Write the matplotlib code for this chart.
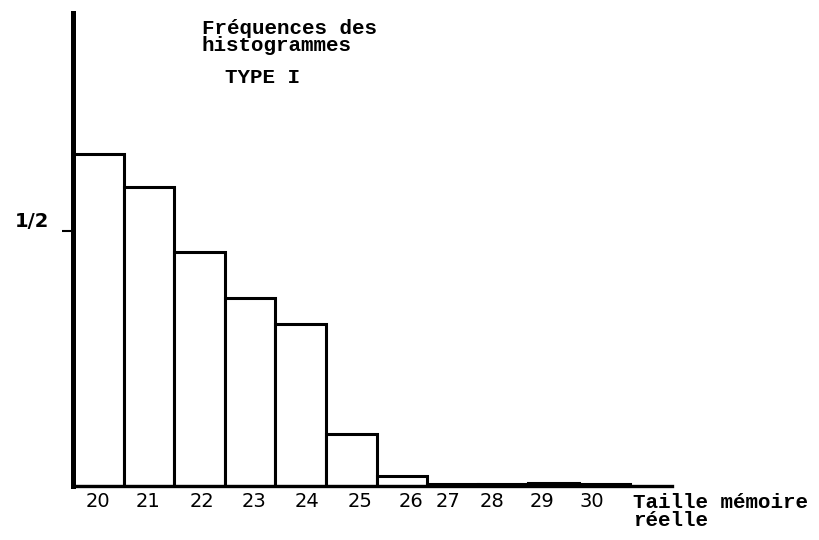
import matplotlib.pyplot as plt

# memory size classes and their frequencies (fraction, 1/2 marked on the axis)
sizes = ["20", "21", "22", "23", "24", "25", "26", "27", "28", "29", "30"]
freqs = [0.651, 0.586, 0.459, 0.369, 0.318, 0.102, 0.020, 0.004, 0.004, 0.005, 0.004]
# where the typed tick labels sit along the axis (the last ones are squeezed)
label_pos = [0.49, 1.48, 2.55, 3.58, 4.62, 5.67, 6.68, 7.41, 8.28, 9.27, 10.26]

mono = "Liberation Mono"

fig = plt.figure(figsize=(8.2, 5.4), dpi=100)
ax = fig.add_axes([73 / 820, 54 / 540, 599 / 820, 473 / 540])

lefts = list(range(len(sizes)))
ax.bar(lefts, freqs, width=1.0, align="edge", facecolor="white",
       edgecolor="black", linewidth=2.2)

ax.set_xlim(0, 11.84)
ax.set_ylim(0, 0.927)

for side in ("top", "right"):
    ax.spines[side].set_visible(False)
ax.spines["left"].set_linewidth(3.6)
ax.spines["bottom"].set_linewidth(2.4)

ax.set_yticks([0.5])
ax.set_yticklabels(["1/2"], fontsize=14, family="DejaVu Sans", fontweight="bold")
ax.tick_params(axis="y", length=8, width=1.5, pad=9)
for lbl in ax.get_yticklabels():
    lbl.set_verticalalignment("bottom")

ax.set_xticks(label_pos)
ax.set_xticklabels(sizes, fontsize=14, family="DejaVu Sans")
ax.tick_params(axis="x", length=0, pad=4)

fig.text(202 / 820, 1 - 19 / 540, "Fréquences des\nhistogrammes", fontsize=15,
         family=mono, fontweight="bold", linespacing=0.85, va="top")
fig.text(225 / 820, 1 - 78 / 540, "TYPE I", fontsize=15, family=mono,
         fontweight="bold", va="center")
fig.text(633 / 820, 1 - 493 / 540, "Taille mémoire\nréelle", fontsize=15,
         family=mono, fontweight="bold", linespacing=0.9, va="top")

fig.savefig("out.png", dpi=100, facecolor="white")
